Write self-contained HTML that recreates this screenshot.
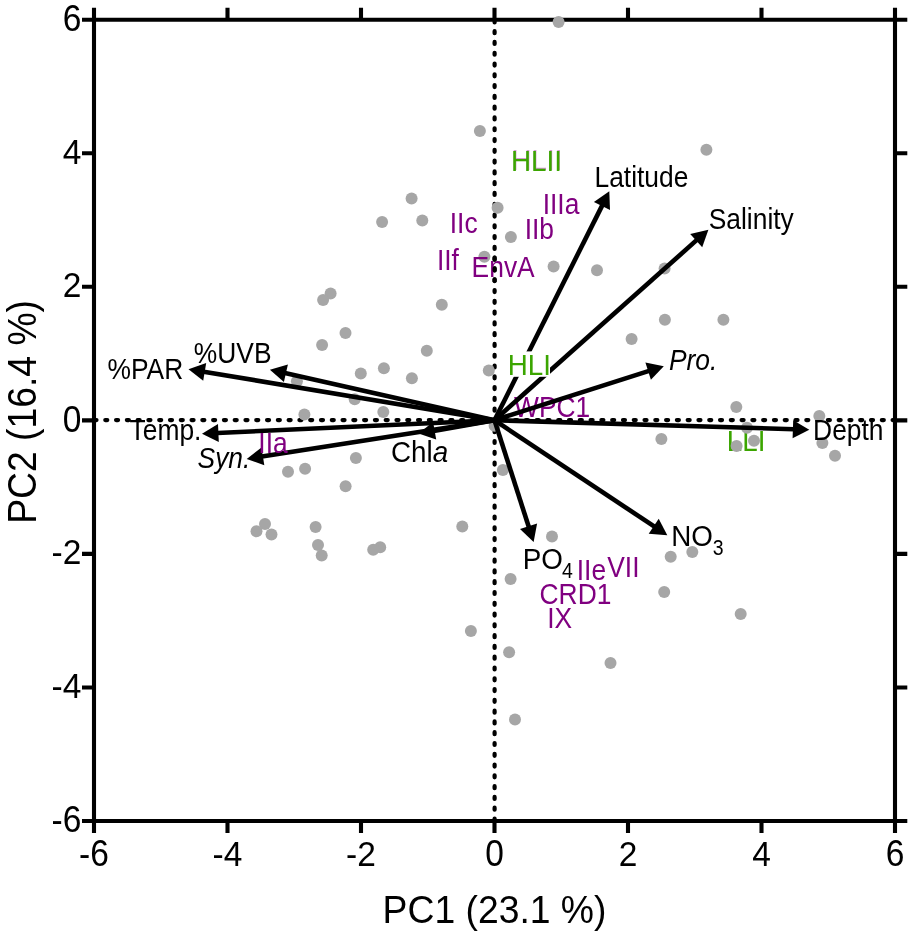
<!DOCTYPE html>
<html lang="en"><head><meta charset="utf-8"><title>PCA biplot</title>
<style>html,body{margin:0;padding:0;background:#fff}body{width:914px;height:938px;overflow:hidden}svg{display:block}text{font-family:"Liberation Sans",Arial,Helvetica,sans-serif}.tk{font-size:33.5px;fill:#000}.ti{font-size:37.3px;fill:#000}.lb{font-size:26.4px}.gl{font-size:27.8px;fill:#3ba500}.p{fill:#800080}.gl.p{fill:#d49ad4}.k{fill:#000}.i{font-style:italic}.sub{font-size:19.5px}.lb2{font-size:27.8px}</style></head><body>
<svg width="914" height="938" viewBox="0 0 914 938">
<rect width="914" height="938" fill="#fff"/>
<g stroke="#000" stroke-width="4.1" fill="none">
<path d="M94 7.7V833M895 7.7V833M82 19.7H907.3M82 821H907.3"/>
<path d="M227.50 7.7V19.7M227.50 821V833M361.00 7.7V19.7M361.00 821V833M494.50 7.7V19.7M494.50 821V833M628.00 7.7V19.7M628.00 821V833M761.50 7.7V19.7M761.50 821V833M82 153.25H94M895 153.25H907.3M82 286.80H94M895 286.80H907.3M82 420.35H94M895 420.35H907.3M82 553.90H94M895 553.90H907.3M82 687.45H94M895 687.45H907.3"/>
</g>
<g stroke="#000" stroke-width="4.2" stroke-linecap="round" fill="none" stroke-dasharray="2 8.785"><path d="M494.6 20.4V819"/><path d="M94.5 420.1H893"/></g>
<text class="gl" transform="translate(726.72 451.30) scale(1 1.085)">LLI</text>
<text class="lb2 k" transform="translate(671.22 546.10) scale(1 1.085)">NO</text>
<text class="sub k" transform="translate(712.74 554.80) scale(1 1.085)">3</text>
<g fill="#a6a6a6">
<circle cx="558.6" cy="22.0" r="6"/>
<circle cx="479.9" cy="131.1" r="6"/>
<circle cx="706.4" cy="149.7" r="6"/>
<circle cx="411.6" cy="198.5" r="6"/>
<circle cx="497.6" cy="207.8" r="6"/>
<circle cx="382.1" cy="222.1" r="6"/>
<circle cx="422.3" cy="220.6" r="6"/>
<circle cx="510.9" cy="237.1" r="6"/>
<circle cx="484.4" cy="256.7" r="6"/>
<circle cx="553.6" cy="266.5" r="6"/>
<circle cx="597.0" cy="270.3" r="6"/>
<circle cx="664.6" cy="268.5" r="6"/>
<circle cx="330.6" cy="293.6" r="6"/>
<circle cx="323.1" cy="299.9" r="6"/>
<circle cx="441.8" cy="304.8" r="6"/>
<circle cx="664.9" cy="319.8" r="6"/>
<circle cx="723.4" cy="319.7" r="6"/>
<circle cx="345.5" cy="333.0" r="6"/>
<circle cx="631.6" cy="338.9" r="6"/>
<circle cx="322.1" cy="345.0" r="6"/>
<circle cx="426.8" cy="350.7" r="6"/>
<circle cx="383.9" cy="368.3" r="6"/>
<circle cx="488.8" cy="370.6" r="6"/>
<circle cx="360.8" cy="373.4" r="6"/>
<circle cx="411.9" cy="378.3" r="6"/>
<circle cx="296.9" cy="381.3" r="6"/>
<circle cx="354.7" cy="399.3" r="6"/>
<circle cx="736.3" cy="407.1" r="6"/>
<circle cx="383.3" cy="411.9" r="6"/>
<circle cx="304.4" cy="414.4" r="6"/>
<circle cx="819.3" cy="416.1" r="6"/>
<circle cx="494.6" cy="425.7" r="6"/>
<circle cx="747.0" cy="427.8" r="6"/>
<circle cx="661.4" cy="439.0" r="6"/>
<circle cx="754.0" cy="440.7" r="6"/>
<circle cx="822.4" cy="442.9" r="6"/>
<circle cx="736.6" cy="446.1" r="6"/>
<circle cx="835.0" cy="455.7" r="6"/>
<circle cx="355.9" cy="458.1" r="6"/>
<circle cx="305.1" cy="468.7" r="6"/>
<circle cx="288.0" cy="471.8" r="6"/>
<circle cx="502.9" cy="469.9" r="6"/>
<circle cx="345.6" cy="486.3" r="6"/>
<circle cx="265.0" cy="523.9" r="6"/>
<circle cx="315.6" cy="527.0" r="6"/>
<circle cx="462.3" cy="526.4" r="6"/>
<circle cx="256.5" cy="531.3" r="6"/>
<circle cx="271.5" cy="534.4" r="6"/>
<circle cx="552.0" cy="536.6" r="6"/>
<circle cx="318.0" cy="545.1" r="6"/>
<circle cx="380.2" cy="547.2" r="6"/>
<circle cx="373.2" cy="549.7" r="6"/>
<circle cx="692.3" cy="552.1" r="6"/>
<circle cx="321.7" cy="555.5" r="6"/>
<circle cx="670.7" cy="556.8" r="6"/>
<circle cx="510.6" cy="578.9" r="6"/>
<circle cx="664.2" cy="591.9" r="6"/>
<circle cx="740.7" cy="614.0" r="6"/>
<circle cx="470.9" cy="630.9" r="6"/>
<circle cx="509.1" cy="652.2" r="6"/>
<circle cx="610.5" cy="663.0" r="6"/>
<circle cx="515.0" cy="719.6" r="6"/>
</g>
<text class="lb p" transform="translate(542.65 213.70) scale(1 1.120)">IIIa</text>
<text class="lb p" transform="translate(449.74 233.40) scale(1 1.120)">IIc</text>
<text class="lb p" transform="translate(524.66 239.00) scale(1 1.120)">IIb</text>
<text class="lb p" transform="translate(436.91 269.80) scale(1 1.120)">IIf</text>
<text class="lb p" transform="translate(471.60 277.30) scale(1 1.120)">EnvA</text>
<text class="lb p" transform="translate(514.05 416.50) scale(1 1.120)">WPC1</text>
<text class="lb p" transform="translate(576.74 579.70) scale(1 1.120)">IIe</text>
<text class="lb p" transform="translate(607.20 576.70) scale(1 1.120)">VII</text>
<text class="lb p" transform="translate(539.53 603.90) scale(1 1.120)">CRD1</text>
<text class="lb p" transform="translate(547.14 628.20) scale(1 1.120)">IX</text>
<clipPath id="c1"><rect x="489" y="252" width="12" height="30"/></clipPath>
<g stroke="#000" stroke-width="4.2" stroke-linecap="round" fill="none" stroke-dasharray="2 8.785" clip-path="url(#c1)"><path d="M494.6 20.4V819"/><path d="M94.5 420.1H893"/></g>
<g stroke="#000" stroke-width="4.6" fill="#000">
<path d="M494.5 420.2L203.7 371.7" fill="none"/>
<path stroke="none" d="M188.5 369.2L206.2 363.0L203.2 380.7Z"/>
<path d="M494.5 420.2L284.9 373.1" fill="none"/>
<path stroke="none" d="M269.9 369.7L287.9 364.6L283.9 382.1Z"/>
<path d="M494.5 420.2L217.4 433.0" fill="none"/>
<path stroke="none" d="M202.0 433.7L218.0 424.0L218.8 442.0Z"/>
<path d="M494.5 420.2L261.9 456.6" fill="none"/>
<path stroke="none" d="M246.7 458.9L261.5 447.5L264.3 465.3Z"/>
<path d="M494.5 420.2L433.7 430.9" fill="none"/>
<path stroke="none" d="M418.5 433.6L433.1 421.9L436.2 439.6Z"/>
<path d="M494.5 420.2L602.4 205.1" fill="none"/>
<path stroke="none" d="M609.3 191.3L610.0 210.0L593.9 202.0Z"/>
<path d="M494.5 420.2L696.9 239.9" fill="none"/>
<path stroke="none" d="M708.4 229.7L702.2 247.3L690.2 233.9Z"/>
<path d="M494.5 420.2L649.1 370.9" fill="none"/>
<path stroke="none" d="M663.8 366.2L650.9 379.8L645.4 362.6Z"/>
<path d="M494.5 420.2L793.9 429.2" fill="none"/>
<path stroke="none" d="M809.3 429.7L792.6 438.2L793.2 420.2Z"/>
<path d="M494.5 420.2L654.5 526.7" fill="none"/>
<path stroke="none" d="M667.3 535.3L648.7 533.7L658.7 518.7Z"/>
<path d="M494.5 420.2L528.9 527.3" fill="none"/>
<path stroke="none" d="M533.6 542.0L520.0 529.1L537.1 523.6Z"/>
</g>
<text class="lb p" transform="translate(258.31 452.60) scale(1 1.120)">IIa</text>
<rect x="508" y="351.4" width="42" height="25.4" fill="#fff"/>
<text class="gl p" transform="translate(511.45 170.35) scale(1 1.085)">HLII</text>
<text class="gl" transform="translate(511.00 170.80) scale(1 1.085)">HLII</text>
<text class="gl" transform="translate(507.66 375.40) scale(1 1.085)">HLI</text>
<text class="lb k" transform="translate(107.50 378.60) scale(1 1.120)">%PAR</text>
<text class="lb k" transform="translate(193.85 362.90) scale(1 1.120)">%UVB</text>
<text class="lb k" transform="translate(129.57 440.30) scale(1 1.120)">Temp.</text>
<text class="lb k i" transform="translate(197.54 467.90) scale(1 1.120)">Syn.</text>
<text class="lb k" transform="translate(594.48 186.90) scale(1 1.120)">Latitude</text>
<text class="lb k" transform="translate(708.71 229.20) scale(1 1.120)">Salinity</text>
<text class="lb k i" transform="translate(668.96 369.60) scale(1 1.120)">Pro.</text>
<text class="lb k" transform="translate(813.11 440.20) scale(1 1.120)">Depth</text>
<text class="lb2 k" transform="translate(390.98 461.90) scale(1 1.085)">Chl<tspan class="i">a</tspan></text>
<text class="lb2 k" transform="translate(522.72 569.20) scale(1 1.085)">PO</text>
<text class="sub k" transform="translate(561.94 577.80) scale(1 1.085)">4</text>
<text class="tk" transform="translate(94.00 866.40) scale(1 1.090)" text-anchor="middle">-6</text>
<text class="tk" transform="translate(227.50 865.50) scale(1 1.075)" text-anchor="middle">-4</text>
<text class="tk" transform="translate(361.00 865.50) scale(1 1.075)" text-anchor="middle">-2</text>
<text class="tk" transform="translate(494.50 866.40) scale(1 1.090)" text-anchor="middle">0</text>
<text class="tk" transform="translate(628.00 865.50) scale(1 1.075)" text-anchor="middle">2</text>
<text class="tk" transform="translate(761.50 865.50) scale(1 1.075)" text-anchor="middle">4</text>
<text class="tk" transform="translate(895.00 866.40) scale(1 1.090)" text-anchor="middle">6</text>
<text class="tk" transform="translate(81.40 30.95) scale(1 1.100)" text-anchor="end">6</text>
<text class="tk" transform="translate(81.40 163.55) scale(1 1.075)" text-anchor="end">4</text>
<text class="tk" transform="translate(81.40 297.10) scale(1 1.075)" text-anchor="end">2</text>
<text class="tk" transform="translate(81.40 431.60) scale(1 1.100)" text-anchor="end">0</text>
<text class="tk" transform="translate(81.40 564.20) scale(1 1.075)" text-anchor="end">-2</text>
<text class="tk" transform="translate(81.40 697.75) scale(1 1.075)" text-anchor="end">-4</text>
<text class="tk" transform="translate(81.40 832.25) scale(1 1.100)" text-anchor="end">-6</text>
<text class="ti" transform="translate(494.50 923.00) scale(1 1.060)" text-anchor="middle">PC1 (23.1 %)</text>
<text class="ti" text-anchor="middle" transform="translate(36 411.95) rotate(-90) scale(1 1.070)">PC2 (16.4 %)</text>
</svg></body></html>
